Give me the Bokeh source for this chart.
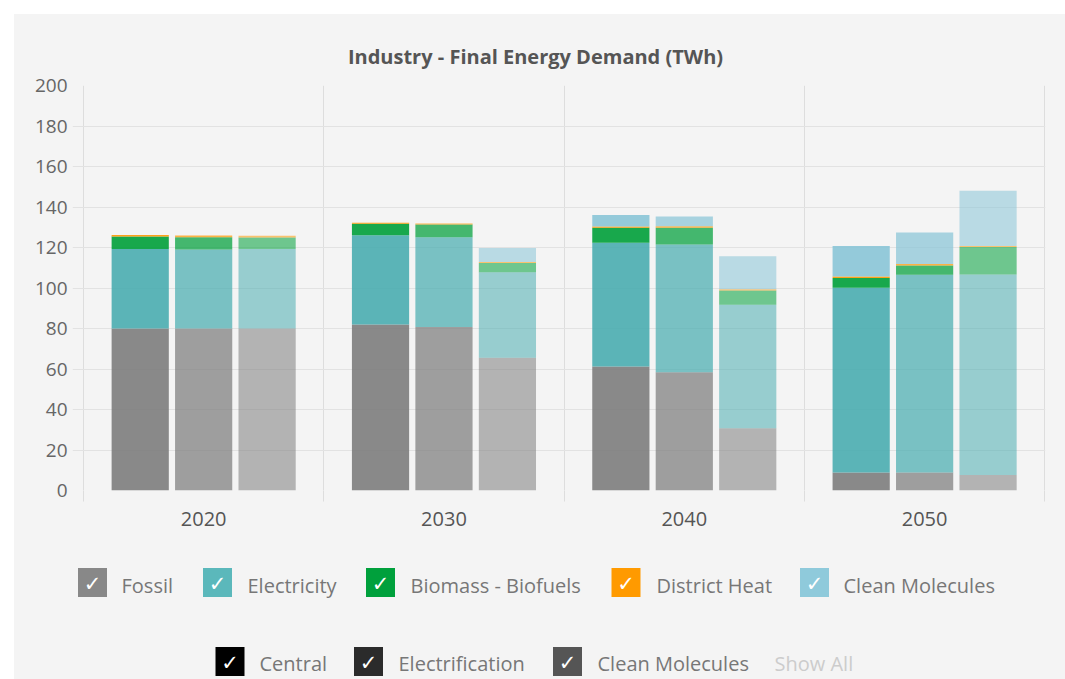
from bokeh.plotting import figure
from bokeh.models import Range1d, FixedTicker, ColumnDataSource
from bokeh.layouts import column
from bokeh.core.properties import value
from bokeh.embed import file_html
from bokeh.resources import INLINE

# ---------------- data ----------------
years = ["2020", "2030", "2040", "2050"]
scenarios = ["Central", "Electrification", "Clean Molecules"]
carriers = ["Fossil", "Electricity", "Biomass - Biofuels", "District Heat", "Clean Molecules"]
title_text = "Industry - Final Energy Demand (TWh)"

central_fossil = [80.0, 82.0, 61.2, 8.9]
central_electricity = [39.3, 44.0, 61.1, 91.2]
central_biomass = [6.1, 5.7, 7.4, 4.9]
central_district_heat = [0.8, 0.5, 0.7, 0.7]
central_clean_molecules = [0.0, 0.0, 5.6, 15.0]

electrif_fossil = [80.0, 80.7, 58.4, 8.9]
electrif_electricity = [39.0, 44.4, 63.1, 97.6]
electrif_biomass = [6.1, 6.3, 8.2, 4.6]
electrif_district_heat = [0.8, 0.5, 0.8, 0.7]
electrif_clean_molecules = [0.0, 0.0, 4.8, 15.6]

cm_fossil = [80.0, 65.5, 30.8, 7.6]
cm_electricity = [39.3, 42.3, 60.9, 99.1]
cm_biomass = [5.7, 4.6, 7.1, 13.5]
cm_district_heat = [0.8, 0.5, 0.6, 0.5]
cm_clean_molecules = [0.0, 6.8, 16.3, 27.3]

scenario_data = [
    (central_fossil, central_electricity, central_biomass, central_district_heat, central_clean_molecules),
    (electrif_fossil, electrif_electricity, electrif_biomass, electrif_district_heat, electrif_clean_molecules),
    (cm_fossil, cm_electricity, cm_biomass, cm_district_heat, cm_clean_molecules),
]

# ---------------- styles / layout ----------------
BG = "#f4f4f4"
bar_colors = ["#7d7d7d", "#4aadb0", "#00a03a", "#ff9900", "#89c5d7"]
legend_colors = ["#888888", "#5bb8bb", "#00a03c", "#ff9a00", "#8fcadb"]
scenario_alpha = [0.9, 0.72, 0.55]
scenario_offset = [-0.264, 0.0, 0.264]
scenario_legend_colors = ["#000000", "#2b2b2b", "#555555"]
FONT = "Open Sans"
W = 1051
MB_L, MB_R = 58, 20          # borders so the frame spans page x 72..1045
FR_L, FR_R = 72, 1045


def panel(height, y_top):
    f = figure(width=W, height=height, x_range=Range1d(FR_L, FR_R),
               y_range=Range1d(y_top + height, y_top),
               output_backend="svg", toolbar_location=None,
               min_border_left=MB_L, min_border_right=MB_R,
               min_border_top=0, min_border_bottom=0,
               x_axis_location=None, y_axis_location=None)
    f.background_fill_color = None
    f.border_fill_color = BG
    f.outline_line_color = None
    f.grid.visible = False
    return f


# ---------------- title panel (page y 14..72) ----------------
top = panel(58, 14)
top.text(x=[535], y=[56], text=[title_text], text_color="#555555",
         text_font=value(FONT), text_font_size="20px", text_font_style="bold",
         text_align="center", text_baseline="middle")

# ---------------- main chart (page y 72..545) ----------------
p = figure(width=W, height=473,
           x_range=Range1d(-11 / 240.5, 4.003), y_range=Range1d(0, 200),
           output_backend="svg", toolbar_location=None,
           min_border_left=MB_L, min_border_right=MB_R, min_border_top=13, min_border_bottom=55)
p.background_fill_color = None
p.border_fill_color = BG
p.outline_line_color = None

fields = ["fossil", "electricity", "biomass", "district_heat", "clean_molecules"]
for j, data in enumerate(scenario_data):
    src = ColumnDataSource(dict(
        x=[i + 0.5 + scenario_offset[j] for i in range(len(years))],
        year=years,
        **{f: list(v) for f, v in zip(fields, data)}
    ))
    p.vbar_stack(stackers=fields, x="x", width=0.238, source=src,
                 fill_color=bar_colors, fill_alpha=scenario_alpha[j],
                 line_color=None)

# grids
p.xgrid.ticker = FixedTicker(ticks=[0, 1, 2, 3, 4])
p.xgrid.grid_line_color = "#dddddd"
p.ygrid.ticker = FixedTicker(ticks=list(range(0, 201, 20)))
p.ygrid.grid_line_color = "#e2e2e2"

# x axis
p.xaxis.ticker = FixedTicker(ticks=[i + 0.5 for i in range(len(years))],
                             minor_ticks=[0, 1, 2, 3, 4])
p.xaxis.major_label_overrides = {i + 0.5: y for i, y in enumerate(years)}
p.xaxis.axis_line_color = None
p.xaxis.major_tick_line_color = None
p.xaxis.major_tick_out = 0
p.xaxis.minor_tick_in = 0
p.xaxis.minor_tick_out = 11
p.xaxis.minor_tick_line_color = "#dddddd"
p.xaxis.major_label_standoff = 10
p.xaxis.major_label_text_font = FONT
p.xaxis.major_label_text_font_size = "20px"
p.xaxis.major_label_text_color = "#555555"

# y axis
p.yaxis.ticker = FixedTicker(ticks=list(range(0, 201, 20)))
p.yaxis.axis_line_color = None
p.yaxis.major_tick_line_color = None
p.yaxis.minor_tick_line_color = None
p.yaxis.major_tick_out = 0
p.yaxis.major_tick_in = 0
p.yaxis.major_label_standoff = 5
p.yaxis.major_label_text_font = FONT
p.yaxis.major_label_text_font_size = "19px"
p.yaxis.major_label_text_color = "#666666"

# ---------------- legend panel (page y 545..679) ----------------
leg = panel(134, 545)

row1_box_x = [92, 217, 380, 625.5, 814]
row1_text_x = [121, 247, 410, 656, 843]
row1_y = 582
row2_box_x = [229.5, 368, 567]
row2_text_x = [259, 398, 597]
row2_y = 661

leg.rect(x=row1_box_x, y=[row1_y] * 5, width=29, height=29,
         fill_color=legend_colors, line_color=None)
leg.text(x=row1_box_x, y=[row1_y + 1] * 5, text=["✓"] * 5, text_color="white",
         text_font=value("DejaVu Sans"), text_font_size="21px",
         text_align="center", text_baseline="middle")
leg.text(x=row1_text_x, y=[row1_y + 3] * 5, text=carriers, text_color="#777777",
         text_font=value(FONT), text_font_size="20px",
         text_align="left", text_baseline="middle")

leg.rect(x=row2_box_x, y=[row2_y] * 3, width=29, height=29,
         fill_color=scenario_legend_colors, line_color=None)
leg.text(x=row2_box_x, y=[row2_y + 1] * 3, text=["✓"] * 3, text_color="white",
         text_font=value("DejaVu Sans"), text_font_size="21px",
         text_align="center", text_baseline="middle")
leg.text(x=row2_text_x, y=[row2_y + 2] * 3, text=scenarios, text_color="#777777",
         text_font=value(FONT), text_font_size="20px",
         text_align="left", text_baseline="middle")
leg.text(x=[774], y=[row2_y + 2], text=["Show All"], text_color="#cccccc",
         text_font=value(FONT), text_font_size="20px",
         text_align="left", text_baseline="middle")

layout = column(top, p, leg, margin=(14, 0, 0, 14), styles={"background-color": BG})

open("out.html", "w").write(file_html(layout, INLINE))
